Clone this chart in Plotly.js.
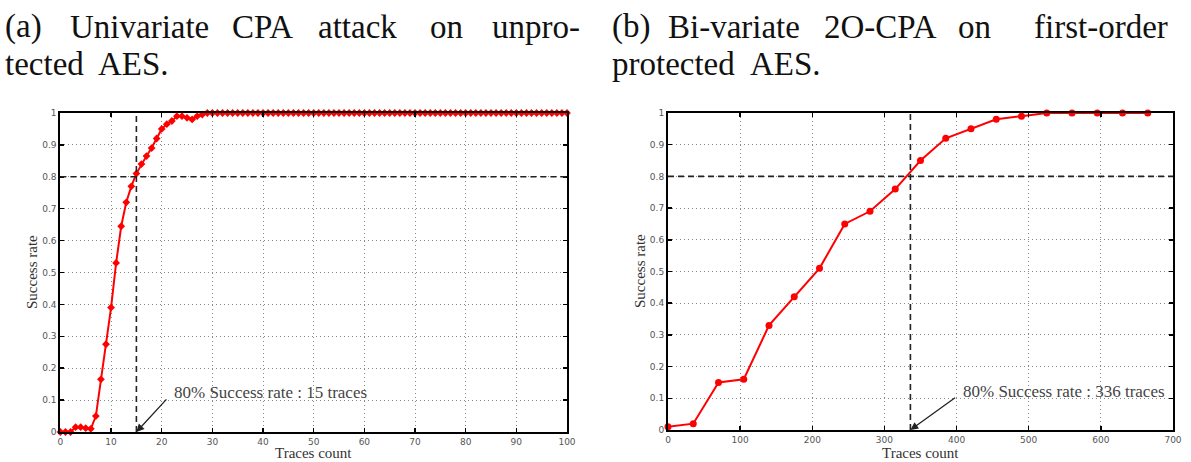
<!DOCTYPE html>
<html>
<head>
<meta charset="utf-8">
<script src="https://cdn.plot.ly/plotly-3.0.1.min.js"></script>
<style>html,body{margin:0;padding:0;background:#fff;overflow:hidden;}#chart{width:1191px;height:462px;}</style>
</head>
<body>
<div id="chart"></div>
<script>
// ---- data ----
const leftX = [0,1,2,3,4,5,6,7,8,9,10,11,12,13,14,15,16,17,18,19,20,21,22,23,24,25,26,27,28,29,30,31,32,33,34,35,36,37,38,39,40,41,42,43,44,45,46,47,48,49,50,51,52,53,54,55,56,57,58,59,60,61,62,63,64,65,66,67,68,69,70,71,72,73,74,75,76,77,78,79,80,81,82,83,84,85,86,87,88,89,90,91,92,93,94,95,96,97,98,99,100];
const leftY = [0,0,0,0.015,0.015,0.012,0.01,0.05,0.165,0.275,0.39,0.53,0.645,0.72,0.77,0.81,0.84,0.865,0.89,0.92,0.95,0.965,0.975,0.99,0.99,0.985,0.98,0.99,0.995,
  1,1,1,1,1,1,1,1,1,1,1,1,1,1,1,1,1,1,1,1,1,1,1,1,1,1,1,1,1,1,1,1,1,1,1,1,1,1,1,1,1,1,1,1,1,1,1,1,1,1,1,1,1,1,1,1,1,1,1,1,1,1,1,1,1,1,1,1,1,1,1,1,1];
const rightX = [0,35,70,105,140,175,210,245,280,315,350,385,420,455,490,525,560,595,630,665];
const rightY = [0.01,0.02,0.15,0.16,0.33,0.42,0.51,0.65,0.69,0.76,0.85,0.92,0.95,0.98,0.99,1,1,1,1,1];
const leftTicksX = [0,10,20,30,40,50,60,70,80,90,100];
const rightTicksX = [0,100,200,300,400,500,600,700];
const ticksY = [0,0.1,0.2,0.3,0.4,0.5,0.6,0.7,0.8,0.9,1];
const tickTextY = ['0','0.1','0.2','0.3','0.4','0.5','0.6','0.7','0.8','0.9','1'];
const thresholdX = [15, 336];
const thresholdY = 0.8;
const noteTexts = ['80% Success rate : 15 traces', '80% Success rate : 336 traces'];
const noteTextPos = [[22.0, 0.123], [406, 0.123]];
const noteTailPos = [[21.2, 0.107], [400, 0.105]];
const axisTitleX = 'Traces count';
const axisTitleY = 'Success rate';
const caption1 = [['(a)','Univariate','CPA','attack','on','unpro-'], ['tected','AES.']];
const caption2 = [['(b)','Bi-variate','2O-CPA','on','first-order'], ['protected','AES.']];

// ---- layout helpers ----
const W = 1191, H = 462;
const px = x => x / W;
const py = y => 1 - y / H;

const serif = 'Liberation Serif, Times New Roman, serif';
const red = '#ff0000';

// right chart on the primary axes (x/y), left chart on x2/y2
const trLeft = {x: leftX, y: leftY, xaxis: 'x2', yaxis: 'y2', mode: 'lines+markers', type: 'scatter',
  line: {color: red, width: 2}, marker: {color: red, size: 6, symbol: 'diamond'}, showlegend: false, hoverinfo: 'skip', cliponaxis: false};
const trRight = {x: rightX, y: rightY, xaxis: 'x', yaxis: 'y', mode: 'lines+markers', type: 'scatter',
  line: {color: red, width: 2}, marker: {color: red, size: 7, symbol: 'circle'}, showlegend: false, hoverinfo: 'skip', cliponaxis: false};

function axisBase(extra) {
  return Object.assign({
    showline: true, linecolor: '#000', linewidth: 2, mirror: 'ticks',
    ticks: 'inside', ticklen: 4, tickwidth: 1.5, tickcolor: '#000',
    showgrid: true, gridcolor: '#8a8a8a', griddash: '1px,3px', gridwidth: 1,
    zeroline: false, automargin: false, tickmode: 'array',
    tickfont: {family: 'DejaVu Sans, sans-serif', size: 9, color: '#555'},
    fixedrange: true
  }, extra);
}

const layout = {
  width: W, height: H,
  margin: {l: 0, r: 0, t: 0, b: 0},
  paper_bgcolor: '#fff', plot_bgcolor: '#fff',
  xaxis2: axisBase({domain: [px(60.4), px(567)], range: [0, 100], tickvals: leftTicksX, ticktext: leftTicksX.map(String), anchor: 'y2'}),
  yaxis2: axisBase({domain: [py(432), py(113)], range: [0, 1], tickvals: ticksY, ticktext: tickTextY, anchor: 'x2'}),
  xaxis: axisBase({domain: [px(668), px(1173)], range: [0, 700], tickvals: rightTicksX, ticktext: rightTicksX.map(String), anchor: 'y'}),
  yaxis: axisBase({domain: [py(430), py(113)], range: [0, 1], tickvals: ticksY, ticktext: tickTextY, anchor: 'x'}),
  shapes: [],
  annotations: []
};

const axPairs = [['x2', 'y2'], ['x', 'y']];
axPairs.forEach(([xa, ya], i) => {
  layout.shapes.push({type: 'line', xref: xa, yref: ya + ' domain', x0: thresholdX[i], x1: thresholdX[i], y0: 0, y1: 1,
    line: {color: '#222', width: 1.6, dash: '6px,4px'}});
  layout.shapes.push({type: 'line', xref: xa + ' domain', yref: ya, x0: 0, x1: 1, y0: thresholdY, y1: thresholdY,
    line: {color: '#222', width: 1.6, dash: '6px,4px'}});
  layout.annotations.push({xref: xa, yref: ya, x: noteTextPos[i][0], y: noteTextPos[i][1], text: noteTexts[i],
    showarrow: false, xanchor: 'left', yanchor: 'middle', font: {family: serif, size: 17, color: '#444'}});
  layout.annotations.push({xref: xa, yref: ya, axref: xa, ayref: ya, x: thresholdX[i], y: 0,
    ax: noteTailPos[i][0], ay: noteTailPos[i][1], text: '', showarrow: true,
    arrowhead: 2, arrowsize: 1.2, arrowwidth: 1.3, arrowcolor: '#222', standoff: 0, startstandoff: 0});
});

// axis titles
[[px(313.7), py(453)], [px(920.5), py(453)]].forEach(p => {
  layout.annotations.push({xref: 'paper', yref: 'paper', x: p[0], y: p[1], text: axisTitleX, showarrow: false,
    xanchor: 'center', yanchor: 'middle', font: {family: serif, size: 15, color: '#333'}});
});
[[px(32), py(272)], [px(640), py(271)]].forEach(p => {
  layout.annotations.push({xref: 'paper', yref: 'paper', x: p[0], y: p[1], text: axisTitleY, showarrow: false,
    textangle: -90, xanchor: 'center', yanchor: 'middle', font: {family: serif, size: 15, color: '#333'}});
});

// captions, word-placed to mimic justified text
const capFont = {family: serif, size: 33, color: '#111'};
const cap1X = [[3, 68, 230, 316, 428, 490], [3, 96]];
const cap2X = [[610, 666, 822, 956, 1032], [610, 748]];
const lineY = [27, 64];
[[caption1, cap1X], [caption2, cap2X]].forEach(([cap, xs]) => {
  cap.forEach((words, li) => {
    words.forEach((w, wi) => {
      layout.annotations.push({xref: 'paper', yref: 'paper', x: px(xs[li][wi]), y: py(lineY[li]), text: w,
        showarrow: false, xanchor: 'left', yanchor: 'middle', font: capFont});
    });
  });
});

Plotly.newPlot('chart', [trLeft, trRight], layout, {staticPlot: true, displayModeBar: false});
</script>
</body>
</html>
